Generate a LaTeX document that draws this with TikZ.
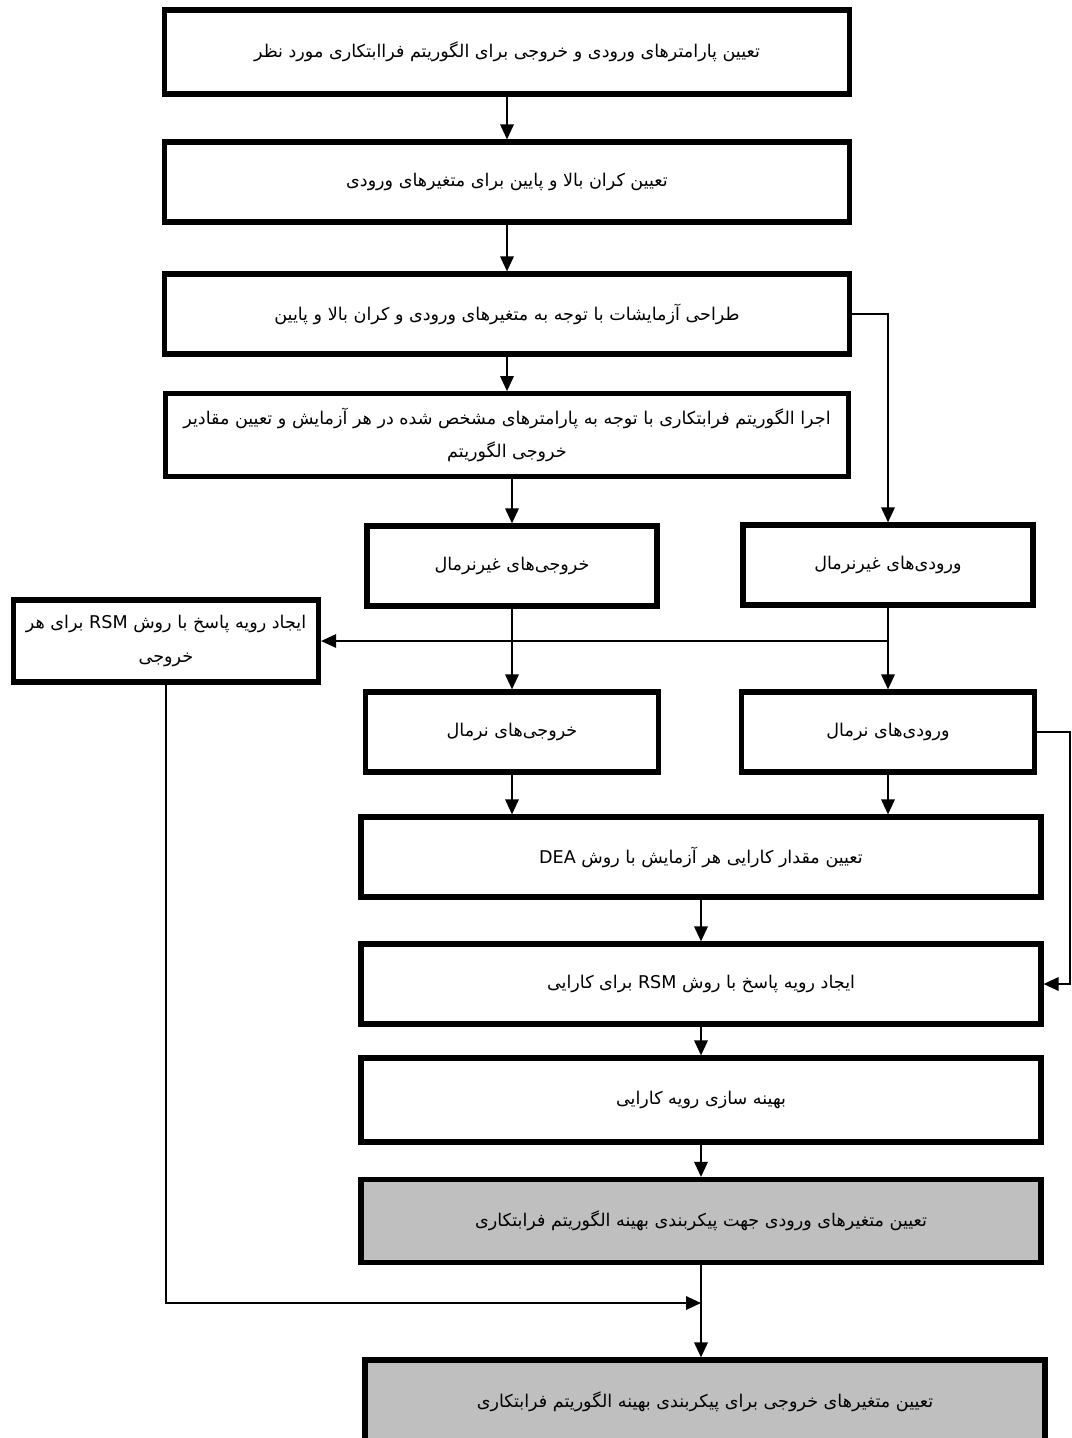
\documentclass[tikz,border=0pt]{standalone}
\usepackage{fontspec}
\usetikzlibrary{arrows.meta}
\newfontfamily\arabicfont[Script=Arabic]{DejaVu Sans}
\TeXXeTstate=1

\begin{document}
\begin{tikzpicture}[
    x=0.02cm, y=-0.02cm,
    box/.style={
      draw, line width=3pt, fill=white, align=center,
      minimum height=1.6cm, inner sep=2pt,
      font=\arabicfont\fontsize{10}{19}\selectfont
    },
    shaded/.style={fill=gray!50},
    link/.style={draw, line width=1pt, -{Triangle[length=3mm,width=2.7mm]}}
  ]
  \useasboundingbox (0,0) rectangle (1072,1438);

  % Main column (top)
  \node[box, minimum width=13.7cm, minimum height=1.68cm] (param) at (507,52)
    {\beginR تعیین پارامترهای ورودی و خروجی برای الگوریتم فراابتکاری مورد نظر\endR};
  \node[box, minimum width=13.7cm] (bound) at (507,182)
    {\beginR تعیین کران بالا و پایین برای متغیرهای ورودی\endR};
  \node[box, minimum width=13.7cm] (design) at (507,314)
    {\beginR طراحی آزمایشات با توجه به متغیرهای ورودی و کران بالا و پایین\endR};
  \node[box, minimum width=13.65cm, minimum height=1.65cm] (run) at (507,435)
    {\beginR اجرا الگوریتم فرابتکاری با توجه به پارامترهای مشخص شده در هر آزمایش و تعیین مقادیر\endR\\
     \beginR خروجی الگوریتم\endR};

  % Non-normal and normal data
  \node[box, minimum width=5.8cm] (outNN) at (512,566) {\beginR خروجی‌های غیرنرمال\endR};
  \node[box, minimum width=5.8cm] (inNN)  at (888,565) {\beginR ورودی‌های غیرنرمال\endR};
  \node[box, minimum width=5.85cm] (outN) at (512,732) {\beginR خروجی‌های نرمال\endR};
  \node[box, minimum width=5.85cm] (inN)  at (888,732) {\beginR ورودی‌های نرمال\endR};
  \node[box, minimum width=6.1cm, minimum height=1.64cm] (rsmOut) at (166,641)
    {\beginR ایجاد رویه پاسخ با روش \beginL RSM\endL{} برای هر\endR\\
     \beginR خروجی\endR};

  % Main column (bottom)
  \node[box, minimum width=13.6cm] (dea) at (701,857)
    {\beginR تعیین مقدار کارایی هر آزمایش با روش \beginL DEA\endL\endR};
  \node[box, minimum width=13.6cm] (rsmEff) at (701,984)
    {\beginR ایجاد رویه پاسخ با روش \beginL RSM\endL{} برای کارایی\endR};
  \node[box, minimum width=13.6cm, minimum height=1.68cm] (opt) at (701,1100)
    {\beginR بهینه سازی رویه کارایی\endR};
  \node[box, shaded, minimum width=13.6cm, minimum height=1.66cm] (inVar) at (701,1221)
    {\beginR تعیین متغیرهای ورودی جهت پیکربندی بهینه الگوریتم فرابتکاری\endR};
  \node[box, shaded, minimum width=13.6cm, minimum height=1.68cm] (outVar) at (705,1402)
    {\beginR تعیین متغیرهای خروجی برای پیکربندی بهینه الگوریتم فرابتکاری\endR};

  % Helper points
  \coordinate (rgt)   at (1070,0);
  \coordinate (split) at (inNN.south |- rsmOut.east);
  \coordinate (join)  at (701,1303);

  % Arrows
  \foreach \i/\j in {param/bound, bound/design, design/run, outNN/outN, inNN/inN,
                     dea/rsmEff, rsmEff/opt, opt/inVar} {
    \draw[link] (\i) -- (\j);
  }
  \draw[link] (run.south -| outNN) -- (outNN);
  \draw[link] (design.east) -| (inNN);
  \draw[link] (split) -- (rsmOut);
  \draw[link] (outN) -- (outN |- dea.north);
  \draw[link] (inN) -- (inN |- dea.north);
  \draw[link] (inN.east) -- (inN.east -| rgt) |- (rsmEff.east);
  \draw[link] (inVar) -- (inVar |- outVar.north);
  \draw[link] (rsmOut.south) |- (join);
\end{tikzpicture}
\end{document}
